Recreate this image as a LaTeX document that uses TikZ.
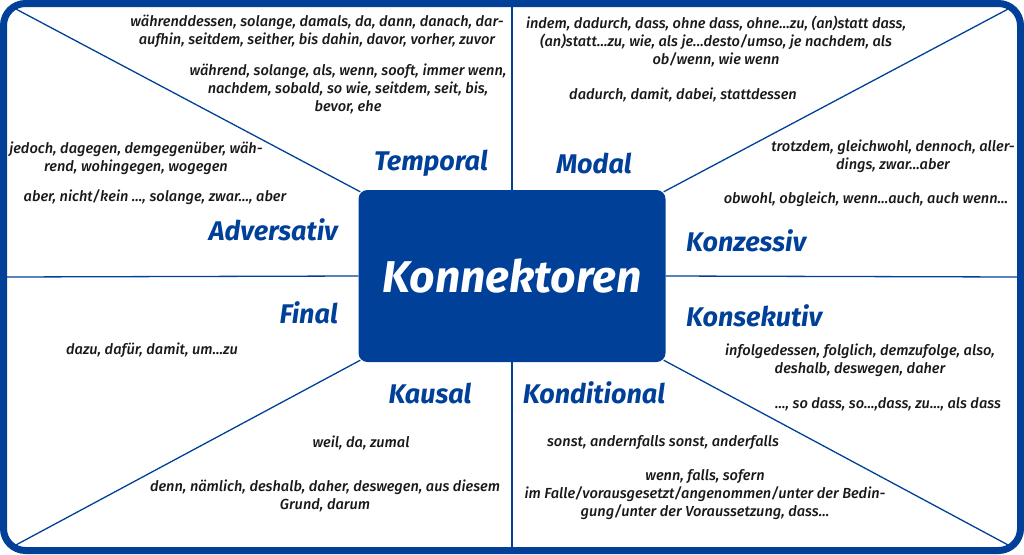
\documentclass[tikz,border=0pt]{standalone}
\usepackage{fontspec}
\setmainfont{Fira Sans}
\IfFontExistsTF{Fira Sans Medium}{\newfontfamily\mittel{Fira Sans Medium}}{\newcommand\mittel{}}
\usepackage{tikz}
\definecolor{konblau}{RGB}{0,64,152}
\tikzset{kategorie/.style={text=konblau,font=\fontsize{27}{30}\selectfont\bfseries\itshape,inner sep=0pt},
beispiel/.style={text=black!90,font=\fontsize{14.6}{18}\selectfont\mittel\itshape,align=center,inner sep=0pt},
trennlinie/.style={draw=konblau,line width=1.3pt}}

\begin{document}
\begin{tikzpicture}[x=1pt,y=-1pt]
\useasboundingbox (0,0) rectangle (1024,554);

% rahmen
\draw[konblau,line width=7pt,rounded corners=22pt] (3.5,3.5) rectangle (1020.5,550.5);

\node[fill=konblau,rounded corners=9pt,minimum width=307pt,minimum height=172pt,inner sep=0pt,
  text=white,font=\fontsize{44.5}{50}\selectfont\bfseries\itshape] (kon) at (512,276) {Konnektoren};

\coordinate (ol) at (14,8);
\coordinate (or) at (1010,8);
\coordinate (ul) at (14,546);
\coordinate (ur) at (1010,546);
\coordinate (ob) at (512,7);
\coordinate (un) at (512,547);
\coordinate (li) at (7,277);
\coordinate (re) at (1017,277);

\draw[trennlinie] (ol) -- ([shift={(2,2)}]kon.north west);
\draw[trennlinie] (or) -- ([shift={(-2,2)}]kon.north east);
\draw[trennlinie] (ul) -- ([shift={(2,-2)}]kon.south west);
\draw[trennlinie] (ur) -- ([shift={(-2,-2)}]kon.south east);
\draw[trennlinie] (ob) -- (kon.north);
\draw[trennlinie] (un) -- (kon.south);
\draw[trennlinie] (li) -- (kon.west);
\draw[trennlinie] (re) -- (kon.east);

% kategorien
\node[kategorie] (temporal) at (431,163) {Temporal};
\node[kategorie] (modal) at (594,163) {Modal};
\node[kategorie,anchor=east] (adversativ) at (338,230) {Adversativ};
\node[kategorie,anchor=west] (konzessiv) at (686,241) {Konzessiv};
\node[kategorie,anchor=east] (final) at (338,313) {Final};
\node[kategorie,anchor=west] (konsekutiv) at (686,316) {Konsekutiv};
\node[kategorie] (kausal) at (430,393) {Kausal};
\node[kategorie] (konditional) at (594,393) {Konditional};

% beispiele
\node[beispiel] (t1) at (317,31) {währenddessen, solange, damals, da, dann, danach, dar-\\aufhin, seitdem, seither, bis dahin, davor, vorher, zuvor};
\node[beispiel] (t2) at (348,89) {während, solange, als, wenn, sooft, immer wenn,\\nachdem, sobald, so wie, seitdem, seit, bis,\\bevor, ehe};
\node[beispiel] (a1) at (136,158) {jedoch, dagegen, demgegenüber, wäh-\\rend, wohingegen, wogegen};
\node[beispiel] (a2) at (155,197) {aber, nicht/kein ..., solange, zwar..., aber};
\node[beispiel] (m1) at (716,42) {indem, dadurch, dass, ohne dass, ohne...zu, (an)statt dass,\\(an)statt...zu, wie, als je...desto/umso, je nachdem, als\\ob/wenn, wie wenn};
\node[beispiel] (m2) at (683,95) {dadurch, damit, dabei, stattdessen};
\node[beispiel] (k1) at (893,156) {trotzdem, gleichwohl, dennoch, aller-\\dings, zwar...aber};
\node[beispiel] (k2) at (866,199) {obwohl, obgleich, wenn...auch, auch wenn...};
\node[beispiel] (f1) at (152,350) {dazu, dafür, damit, um...zu};
\node[beispiel] (ka1) at (361,443) {weil, da, zumal};
\node[beispiel] (ka2) at (325,496) {denn, nämlich, deshalb, daher, deswegen, aus diesem\\Grund, darum};
\node[beispiel] (ks1) at (860,360) {infolgedessen, folglich, demzufolge, also,\\deshalb, deswegen, daher};
\node[beispiel] (ks2) at (888,404) {..., so dass, so...,dass, zu..., als dass};
\node[beispiel] (kd1) at (663,443) {sonst, andernfalls sonst, anderfalls};
\node[beispiel] (kd2) at (705,495) {wenn, falls, sofern\\im Falle/vorausgesetzt/angenommen/unter der Bedin-\\gung/unter der Voraussetzung, dass...};
\end{tikzpicture}
\end{document}
